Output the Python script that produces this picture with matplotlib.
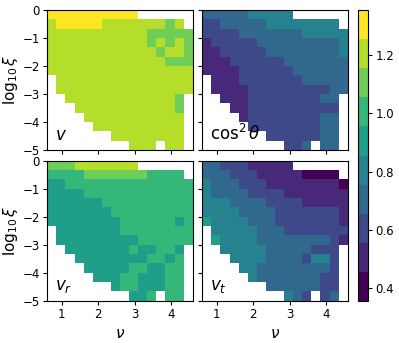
import numpy as np
import matplotlib
matplotlib.use('Agg')
import matplotlib.pyplot as plt

N = np.nan

# cell edges: nu on x, log10 xi on y (row 0 = top)
nu_edges = np.linspace(0.6, 4.6, 17)
xi_edges = np.linspace(0.0, -5.0, 16)

v = [
    [1.3]*10 + [N]*6,
    [1.2] + [1.3]*5 + [1.2]*7 + [1.1, 1.2, N],
    [1.2]*11 + [1.1]*5,
    [1.2]*11 + [1.1, 1.2, 1.1, 1.2, 1.1],
    [1.2]*12 + [1.1, 1.2, 1.2, 1.1],
    [1.2]*13 + [1.1]*3,
    [1.2]*16,
    [N] + [1.2]*15,
    [N] + [1.2]*15,
    [N]*2 + [1.2]*12 + [1.1, N],
    [N]*3 + [1.2]*11 + [1.1, N],
    [N]*4 + [1.2]*11 + [N],
    [N]*5 + [1.2]*10 + [N],
    [N]*7 + [1.2]*8 + [N],
    [N]*9 + [1.2]*3 + [N] + [1.2]*2 + [N],
]

cos2 = [
    [0.7]*5 + [0.8]*5 + [N]*6,
    [0.6]*2 + [0.7]*5 + [0.8]*8 + [N],
    [0.6]*4 + [0.7]*7 + [0.8]*5,
    [0.5] + [0.6]*5 + [0.7]*9 + [0.8],
    [0.5]*2 + [0.6]*5 + [0.7]*8 + [0.8],
    [0.5]*3 + [0.6]*6 + [0.7]*7,
    [0.5]*4 + [0.6]*6 + [0.7]*6,
    [N] + [0.5]*3 + [0.6]*7 + [0.7]*5,
    [N] + [0.5]*4 + [0.6]*9 + [0.7]*2,
    [N]*2 + [0.5]*3 + [0.6]*8 + [0.7]*2 + [N],
    [N]*3 + [0.5]*2 + [0.6]*10 + [N],
    [N]*4 + [0.5] + [0.6]*8 + [0.7]*2 + [N],
    [N]*5 + [0.6]*8 + [0.7]*2 + [N],
    [N]*7 + [0.6]*6 + [0.7]*2 + [N],
    [N]*9 + [0.6]*2 + [0.7, N, 0.7, 0.7, N],
]

v_r = [
    [1.1]*3 + [1.2]*7 + [N]*6,
    [1.0]*4 + [1.1]*7 + [1.0]*4 + [N],
    [0.9]*2 + [1.0]*14,
    [0.9]*4 + [1.0]*12,
    [0.9]*6 + [1.0]*10,
    [0.9]*7 + [1.0]*9,
    [0.9]*8 + [1.0]*6 + [0.9, 1.0],
    [N] + [0.9]*7 + [1.0]*8,
    [N] + [0.9]*9 + [1.0]*6,
    [N]*2 + [0.9]*7 + [1.0, 0.9, 0.9, 1.0, 1.0, 0.9, N],
    [N]*3 + [0.9]*8 + [1.0, 1.0, 0.9, 1.0, N],
    [N]*4 + [0.9]*5 + [1.0, 1.0, 0.9, 0.9, 1.0, 1.0, N],
    [N]*5 + [0.9]*3 + [1.0, 1.0, 0.9, 0.9, 0.9, 1.0, 1.0, N],
    [N]*7 + [0.9, 1.0, 1.0, 0.9, 0.9, 0.9, 1.0, 1.0, N],
    [N]*9 + [0.9, 0.9, 1.0, N, 1.0, 1.0, N],
]

v_t = [
    [0.7]*2 + [0.6]*3 + [0.5]*5 + [N]*6,
    [0.7]*3 + [0.6]*3 + [0.5]*5 + [0.4]*4 + [N],
    [0.8] + [0.7]*3 + [0.6]*3 + [0.5]*8 + [0.4],
    [0.8] + [0.7]*4 + [0.6]*4 + [0.5]*7,
    [0.8]*3 + [0.7]*4 + [0.6]*4 + [0.5]*5,
    [0.8]*4 + [0.7]*4 + [0.6]*7 + [0.5],
    [0.9] + [0.8]*4 + [0.7]*3 + [0.6]*7 + [0.5],
    [N] + [0.8]*5 + [0.7]*3 + [0.6]*7,
    [N, 0.9] + [0.8]*4 + [0.7]*8 + [0.6, 0.5],
    [N]*2 + [0.8]*5 + [0.7]*5 + [0.6]*3 + [N],
    [N]*3 + [0.8]*4 + [0.7]*4 + [0.6, 0.8, 0.8, 0.6, N],
    [N]*4 + [0.8]*2 + [0.7]*8 + [0.6, N],
    [N]*5 + [0.8] + [0.7]*7 + [0.6]*2 + [N],
    [N]*7 + [0.7]*6 + [0.6]*2 + [N],
    [N]*9 + [0.8, 0.7, 0.6, N, 0.6, 0.7, N],
]

panels = [v, cos2, v_r, v_t]
labels = [r'$v$', r'$\cos^2\theta$', r'$v_r$', r'$v_t$']

W, H = 399, 343
fig = plt.figure(figsize=(W/100, H/100), dpi=100)

# axes boxes in pixels: left, top, right, bottom
boxes = [(47.3, 10, 192.7, 150), (202.3, 10, 347.7, 150),
         (47.3, 160.7, 192.7, 300.7), (202.3, 160.7, 347.7, 300.7)]

cmap = plt.get_cmap('viridis', 10)
vmin, vmax = 0.355, 1.355

for k, (l, t, r, b) in enumerate(boxes):
    ax = fig.add_axes([l/W, 1 - b/H, (r - l)/W, (b - t)/H])
    data = np.ma.masked_invalid(np.array(panels[k]))
    mesh = ax.pcolormesh(nu_edges, xi_edges, data, cmap=cmap, vmin=vmin, vmax=vmax)
    ax.set_xlim(0.6, 4.6)
    ax.set_ylim(-5, 0)
    ax.set_xticks([1, 2, 3, 4])
    ax.set_yticks([0, -1, -2, -3, -4, -5])
    ax.tick_params(labelsize=8.5, length=3, pad=2.5)
    ax.text(0.05, 0.04, labels[k], transform=ax.transAxes, fontsize=12,
            ha='left', va='bottom')
    if k % 2 == 0:
        ax.set_ylabel(r'$\log_{10}\xi$', fontsize=11, labelpad=2)
    else:
        ax.set_yticklabels([])
    if k < 2:
        ax.set_xticklabels([])
    else:
        ax.set_xlabel(r'$\nu$', fontsize=11, labelpad=3)

cax = fig.add_axes([357.7/W, 1 - 301/H, 10/W, 291/H])
cb = fig.colorbar(mesh, cax=cax)
cb.set_ticks([0.4, 0.6, 0.8, 1.0, 1.2])
cb.ax.tick_params(labelsize=8.5, length=3, pad=2.5)

fig.savefig('out.png', dpi=100)
